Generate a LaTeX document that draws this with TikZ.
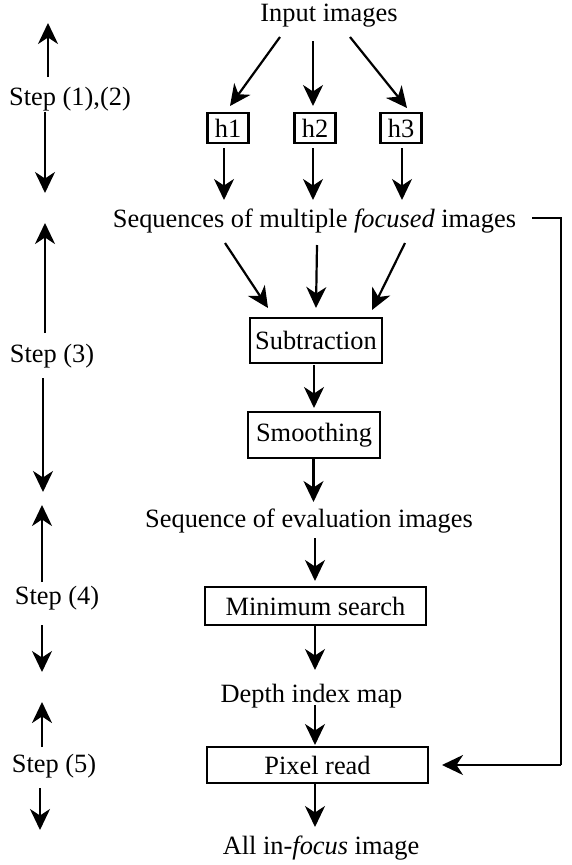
\documentclass[tikz,border=0pt]{standalone}
\usepackage{fontspec}
\setmainfont{Liberation Serif}
\usetikzlibrary{arrows.meta}
\begin{document}
\begin{tikzpicture}[x=1pt,y=-1pt,
  txt/.style={inner sep=0pt,anchor=base,font=\fontsize{26.4}{30}\selectfont},
  box/.style={draw,line width=2.4pt,inner sep=0pt,font=\fontsize{26.4}{30}\selectfont},
  arr/.style={line width=2.2pt,-{Stealth[length=21pt,width=20pt,inset=6.5pt]}},
  ln/.style={line width=2.2pt}]
\useasboundingbox (0,0) rectangle (571,865);
% text nodes
\node[txt] (in) at (329,21) {Input images};
\node[txt] (seq) at (314.5,227.5) {Sequences of multiple \textit{focused} images};
\node[txt] (ev) at (309,527.5) {Sequence of evaluation images};
\node[txt] (dm) at (311.5,702.5) {Depth index map};
\node[txt] (all) at (321,854.5) {All in-\textit{focus} image};
% boxes
\node[box,minimum width=41pt,minimum height=30pt] (h1) at (228,128) {h1};
\node[box,minimum width=41pt,minimum height=30pt] (h2) at (315,128) {h2};
\node[box,minimum width=41pt,minimum height=30pt] (h3) at (401,128) {h3};
\node[box,minimum width=132pt,minimum height=45pt] (sub) at (316,340.5) {Subtraction};
\node[box,minimum width=132pt,minimum height=46pt] (smo) at (314,435) {Smoothing};
\node[box,minimum width=221pt,minimum height=38pt] (min) at (315.5,606) {Minimum search};
\node[box,minimum width=221pt,minimum height=36pt] (pix) at (317.5,765) {Pixel read};
% step labels
\node[txt] (s12) at (70,105.5) {Step (1),(2)};
\node[txt] (s3) at (52,362.5) {Step (3)};
\node[txt] (s4) at (57,604.5) {Step (4)};
\node[txt] (s5) at (54,772.5) {Step (5)};
% coordinates for connector ends
\coordinate (a1) at (280,37);  \coordinate (b1) at (230,106);
\coordinate (a2) at (313,41);  \coordinate (b2) at (313,106);
\coordinate (a3) at (350,37);  \coordinate (b3) at (407,108);
\coordinate (c1) at (224,148); \coordinate (d1) at (224,200);
\coordinate (c2) at (313,148); \coordinate (d2) at (313,200);
\coordinate (c3) at (402,148); \coordinate (d3) at (402,200);
\coordinate (e1) at (225,243); \coordinate (f1) at (268,308);
\coordinate (e2) at (317,245); \coordinate (f2) at (316,308);
\coordinate (e3) at (405,243); \coordinate (f3) at (372,310);
\coordinate (g1) at (314,365); \coordinate (k1) at (314,408);
\coordinate (g2) at (313.5,458); \coordinate (k2) at (313.5,502);
\coordinate (g3) at (315,538); \coordinate (k3) at (315,581);
\coordinate (g4) at (315,625); \coordinate (k4) at (315,670);
\coordinate (g5) at (315,705); \coordinate (k5) at (315,745);
\coordinate (g6) at (315,783); \coordinate (k6) at (315,827);
\coordinate (fbA) at (532,218); \coordinate (fbB) at (561,218);
\coordinate (fbC) at (561,765); \coordinate (fbD) at (442,765);
% connectors
\draw[arr] (a1) -- (b1);
\draw[arr] (a2) -- (b2);
\draw[arr] (a3) -- (b3);
\draw[arr] (c1) -- (d1);
\draw[arr] (c2) -- (d2);
\draw[arr] (c3) -- (d3);
\draw[arr] (e1) -- (f1);
\draw[arr] (e2) -- (f2);
\draw[arr] (e3) -- (f3);
\draw[arr] (g1) -- (k1);
\draw[arr] (g2) -- (k2);
\draw[arr] (g3) -- (k3);
\draw[arr] (g4) -- (k4);
\draw[arr] (g5) -- (k5);
\draw[arr] (g6) -- (k6);
\draw[ln,line join=miter] (fbA) -- (fbB) -- (fbC);
\draw[arr] (fbC) -- (fbD);
% step arrows
\coordinate (u1a) at (48,77);  \coordinate (u1b) at (48,23);
\coordinate (d1a) at (45,112); \coordinate (d1b) at (45,193);
\coordinate (u2a) at (45,333); \coordinate (u2b) at (45,223);
\coordinate (d2a) at (43,378); \coordinate (d2b) at (43,492);
\coordinate (u3a) at (42,582); \coordinate (u3b) at (42,505);
\coordinate (d3a) at (42,625); \coordinate (d3b) at (42,672);
\coordinate (u4a) at (42,747); \coordinate (u4b) at (42,702);
\coordinate (d4a) at (40,788); \coordinate (d4b) at (40,830);
\draw[arr] (u1a) -- (u1b);
\draw[arr] (d1a) -- (d1b);
\draw[arr] (u2a) -- (u2b);
\draw[arr] (d2a) -- (d2b);
\draw[arr] (u3a) -- (u3b);
\draw[arr] (d3a) -- (d3b);
\draw[arr] (u4a) -- (u4b);
\draw[arr] (d4a) -- (d4b);
\end{tikzpicture}
\end{document}
